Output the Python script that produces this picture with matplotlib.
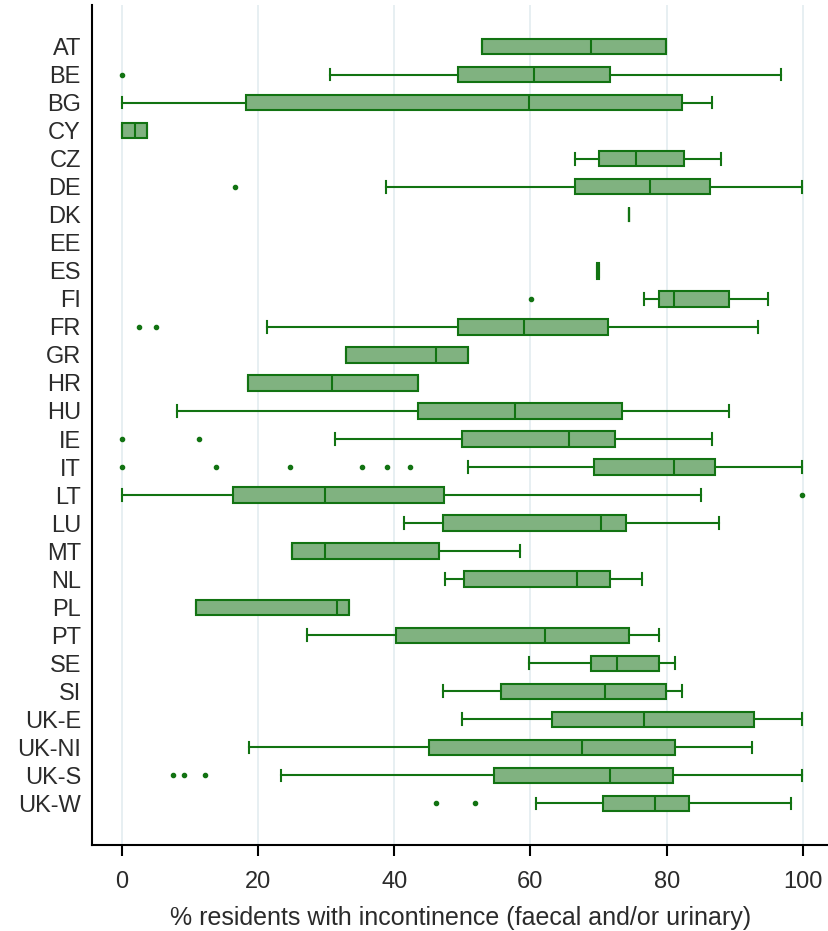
import matplotlib
matplotlib.use("Agg")
import matplotlib.pyplot as plt

# pays / régions
countries = ["AT", "BE", "BG", "CY", "CZ", "DE", "DK", "EE", "ES", "FI", "FR", "GR", "HR",
             "HU", "IE", "IT", "LT", "LU", "MT", "NL", "PL", "PT", "SE", "SI",
             "UK-E", "UK-NI", "UK-S", "UK-W"]

# statistiques des boîtes (None = pas de données)
whis_lo = [52.9, 30.6, 0.0, 0.0, 66.6, 38.8, 74.4, None, 69.8, 76.7, 21.4, 32.9, 18.6,
           8.1, 31.3, 50.9, 0.0, 41.5, 25.0, 47.5, 10.9, 27.2, 59.8, 47.2,
           50.0, 18.7, 23.4, 60.8]
q1 = [52.9, 49.3, 18.3, 0.0, 70.0, 66.6, 74.4, None, 69.8, 78.8, 49.3, 32.9, 18.6,
      43.5, 49.9, 69.3, 16.3, 47.2, 25.0, 50.2, 10.9, 40.3, 68.9, 55.7,
      63.1, 45.1, 54.7, 70.7]
median = [68.9, 60.5, 59.8, 1.9, 75.5, 77.5, 74.4, None, 69.9, 81.0, 59.1, 46.2, 30.9,
          57.8, 65.6, 81.0, 29.9, 70.3, 29.9, 66.9, 31.6, 62.2, 72.7, 71.0,
          76.7, 67.6, 71.7, 78.3]
q3 = [79.9, 71.7, 82.2, 3.7, 82.6, 86.4, 74.4, None, 70.1, 89.1, 71.4, 50.9, 43.5,
      73.5, 72.4, 87.1, 47.3, 74.0, 46.6, 71.7, 33.4, 74.5, 78.8, 79.9,
      92.8, 81.2, 80.9, 83.3]
whis_hi = [79.9, 96.8, 86.7, 3.7, 88.0, 99.9, 74.4, None, 70.1, 94.8, 93.4, 50.9, 43.5,
           89.1, 86.7, 99.9, 85.0, 87.7, 58.4, 76.4, 33.4, 78.8, 81.2, 82.2,
           99.9, 92.5, 99.9, 98.2]
outliers = [[], [0.0], [], [], [], [16.7], [], [], [], [60.1], [2.6, 5.1], [], [],
            [], [0.0, 11.3], [0.0, 13.9, 24.7, 35.3, 38.9, 42.3], [99.9], [], [], [], [], [], [], [],
            [], [], [7.5, 9.2, 12.2], [46.2, 51.8]]

vert = "#127312"
remplissage = "#80b280"

plt.rcParams["font.family"] = ["Liberation Sans", "DejaVu Sans"]

fig = plt.figure(figsize=(8.29, 9.31), dpi=100)
ax = fig.add_axes([0.111, 0.0924, 0.888, 0.9022])

stats = []
positions = []
for i, c in enumerate(countries):
    if q1[i] is None:
        continue
    stats.append({"label": c, "whislo": whis_lo[i], "q1": q1[i], "med": median[i],
                  "q3": q3[i], "whishi": whis_hi[i], "fliers": outliers[i]})
    positions.append(i)

ax.bxp(stats, positions=positions, vert=False, widths=0.55, capwidths=0.42,
       patch_artist=True, showfliers=True,
       boxprops=dict(facecolor=remplissage, edgecolor=vert, linewidth=1.5),
       medianprops=dict(color=vert, linewidth=1.5),
       whiskerprops=dict(color=vert, linewidth=1.5),
       capprops=dict(color=vert, linewidth=1.5),
       flierprops=dict(marker="o", markersize=3.0, markerfacecolor=vert,
                       markeredgecolor=vert))

ax.set_yticks(range(len(countries)))
ax.set_yticklabels(countries)
ax.set_ylim(len(countries) - 1 + 1.48, -1.48)
ax.set_xlim(-4.34, 103.7)
ax.set_xticks([0, 20, 40, 60, 80, 100])
ax.xaxis.grid(True, color="#e3ecf0", linewidth=1.2)
ax.set_axisbelow(True)

for s in ["top", "right"]:
    ax.spines[s].set_visible(False)
for s in ["left", "bottom"]:
    ax.spines[s].set_linewidth(1.5)

ax.tick_params(axis="y", length=0, pad=8, labelsize=17, labelcolor="#2b2b2b")
ax.tick_params(axis="x", length=8, width=1.5, pad=11, labelsize=17, labelcolor="#2b2b2b")
ax.set_xlabel("% residents with incontinence (faecal and/or urinary)",
              fontsize=18, color="#2b2b2b", labelpad=9)

fig.savefig("out.png", dpi=100)
